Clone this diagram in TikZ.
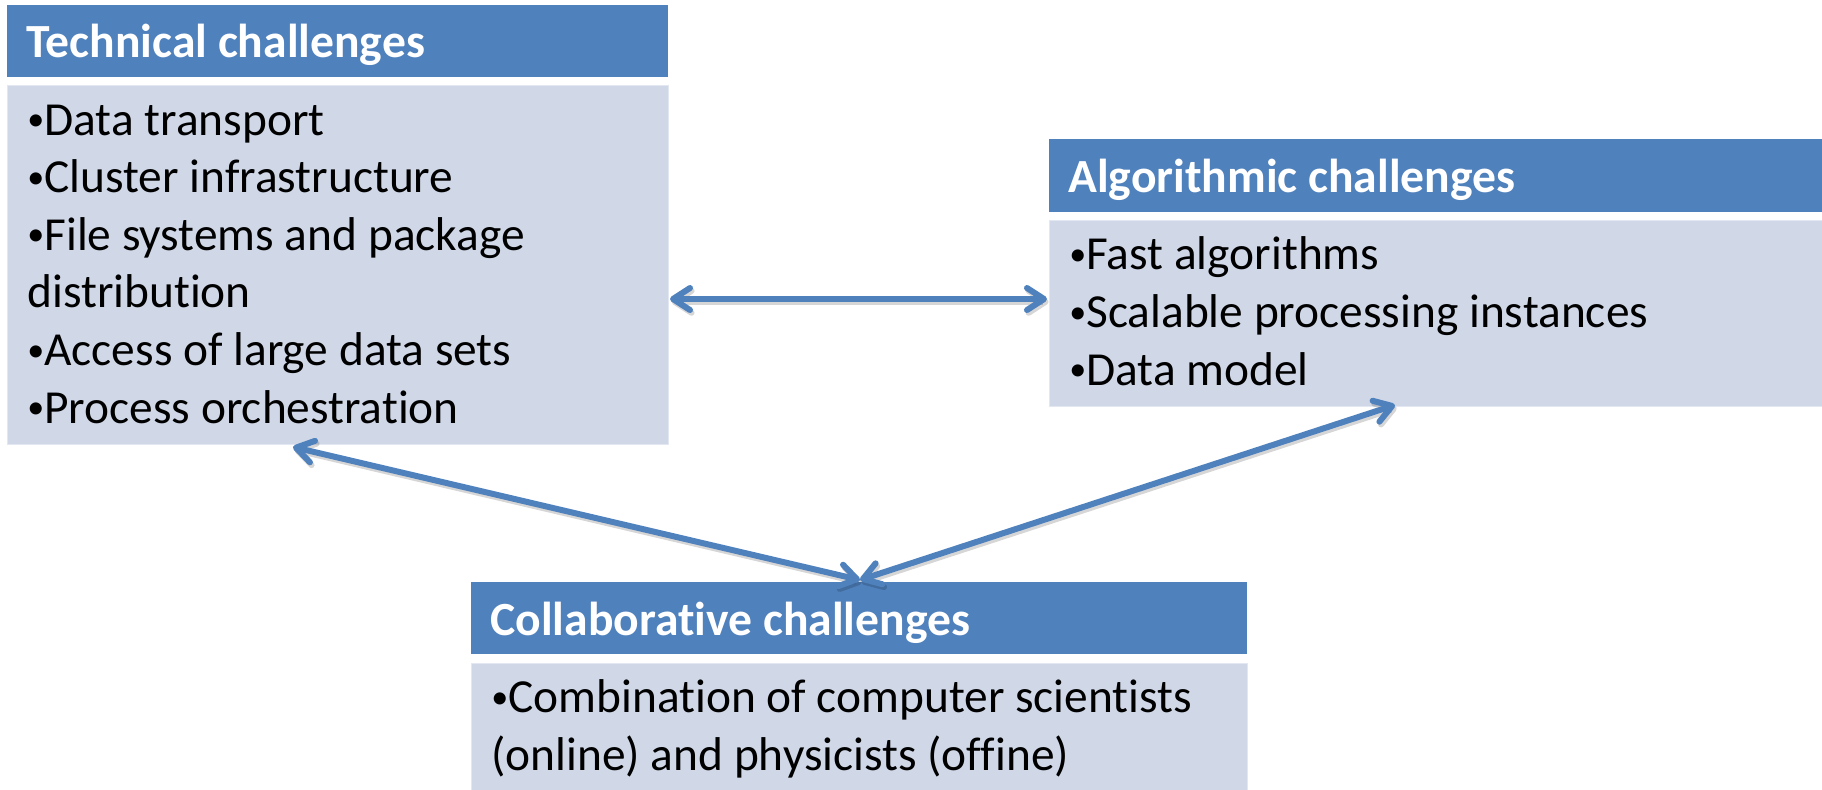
\documentclass[tikz,border=0pt]{standalone}
\usepackage{fontspec}
\usepackage{graphicx}
\setmainfont{Carlito}[Ligatures=NoCommon]
\usetikzlibrary{arrows.meta}
\definecolor{accent}{HTML}{4F81BD}
\definecolor{pale}{HTML}{D0D8E8}
\definecolor{paleedge}{HTML}{E2E7F1}

% small list bullet
\newcommand\listdot{\raisebox{0.09em}{\scalebox{0.72}{•}}}

\tikzset{
  headbox/.style={fill=accent, draw=none, anchor=north west, inner sep=0pt, minimum height=36pt},
  bodybox/.style={fill=pale, draw=paleedge, line width=0.5pt, anchor=north west, inner sep=0pt},
  headtext/.style={anchor=base west, inner sep=0pt, text=white, font=\fontsize{23.8}{28.8}\selectfont\bfseries},
  % the base anchor of a multi-line node sits on its last line
  bodytext/.style={anchor=base west, inner sep=0pt, text=black, align=left, font=\fontsize{23.7}{28.8}\selectfont},
  barb/.tip={Straight Barb[length=8.5pt,width=11pt,round]},
  link/.style={draw=accent, line width=3pt, line cap=round, barb-barb,
    preaction={draw=black, opacity=0.16, line width=3pt,
      transform canvas={shift={(0.8pt,-1.4pt)}}}}
}

\begin{document}
\begin{tikzpicture}[x=0.5pt,y=-0.5pt]
\useasboundingbox (0,0) rectangle (1822,789);

% Technical challenges
\node[headbox, minimum width=330.5pt] (techHead) at (7,5) {};
\node[bodybox, minimum width=330.5pt, minimum height=179.5pt] (techBody) at (7,85) {};
\node[headtext] (techTitle) at (26,57) {Technical challenges};
\node[bodytext] (techList) at (27,423) {\listdot Data transport\\\listdot Cluster infrastructure\\\listdot File systems and package\\distribution\\\listdot Access of large data sets\\\listdot Process orchestration};

% Algorithmic challenges
\node[headbox, minimum width=390pt, minimum height=36.5pt] (algHead) at (1049,139) {};
\node[bodybox, minimum width=390pt, minimum height=93pt] (algBody) at (1049,220) {};
\node[headtext] (algTitle) at (1068,192) {Algorithmic challenges};
\node[bodytext] (algList) at (1069,385) {\listdot Fast algorithms\\\listdot Scalable processing instances\\\listdot Data model};

% Collaborative challenges
\node[headbox, minimum width=388pt] (colHead) at (471,582) {};
\node[bodybox, minimum width=388pt, minimum height=75pt] (colBody) at (471,663) {};
\node[headtext] (colTitle) at (490,635) {Collaborative challenges};
\node[bodytext] (colList) at (491,770) {\listdot Combination of computer scientists\\(online) and physicists (offine)};

% Connector end points
\coordinate (techE) at (670,299);
\coordinate (algW) at (1047,299);
\coordinate (techS) at (293,447);
\coordinate (algS) at (1395,405);
\coordinate (colN) at (860,580);

\draw[link] (techE) -- (algW);
\draw[link] (techS) -- (colN);
\draw[link] (algS) -- (colN);
\end{tikzpicture}
\end{document}
